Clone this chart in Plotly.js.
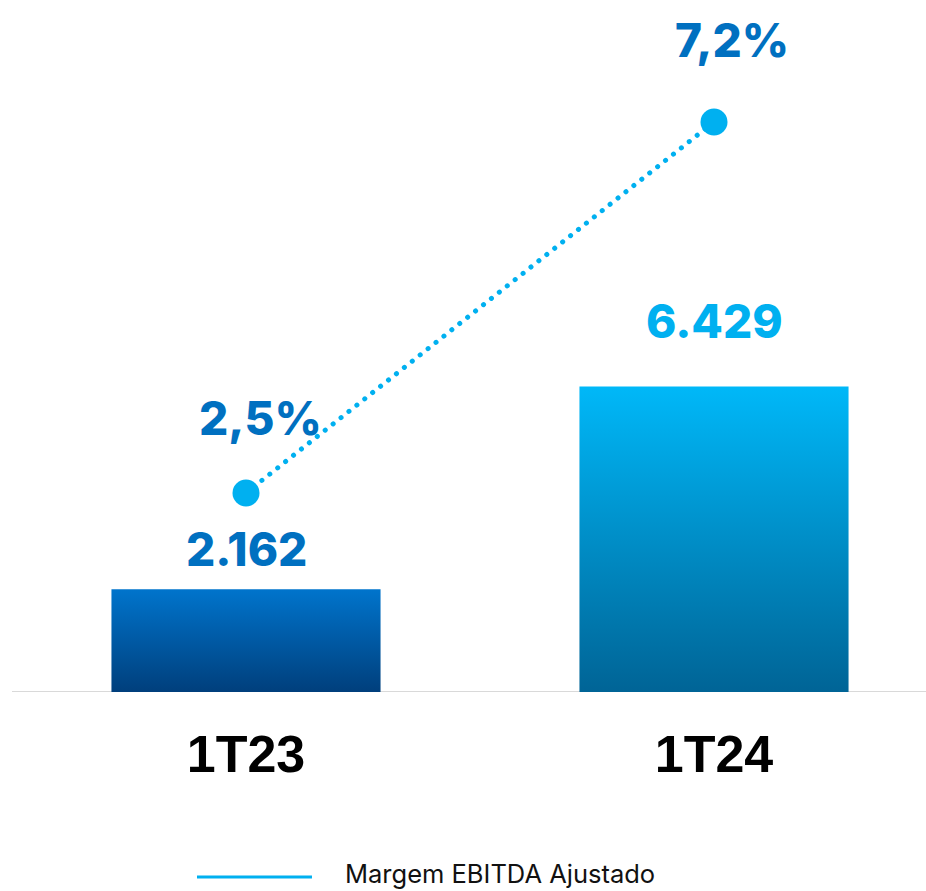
<!DOCTYPE html>
<html>
<head>
<meta charset="utf-8">
<script src="https://cdn.plot.ly/plotly-3.0.1.min.js"></script>
<style>html,body{margin:0;padding:0;background:#fff;}#chart{width:926px;height:891px;}</style>
</head>
<body>
<div id="chart"></div>
<script>
const categories = ['1T23', '1T24'];
const ebitda = [2162, 6429];
const margem = [2.5, 7.2];
const seriesLineName = 'Margem EBITDA Ajustado';

function fmtThousands(v) {
  return String(Math.round(v)).replace(/\B(?=(\d{3})+(?!\d))/g, '.');
}
function fmtPct(v) {
  return v.toFixed(1).replace('.', ',') + '%';
}

const barTrace = {
  type: 'bar',
  x: categories,
  y: ebitda,
  width: 0.575,
  marker: { color: ['#0060b0', '#0096d0'] },
  showlegend: false,
  hoverinfo: 'skip'
};

const lineTrace = {
  type: 'scatter',
  mode: 'lines+markers',
  x: categories,
  y: margem,
  yaxis: 'y2',
  name: seriesLineName,
  line: { color: '#00b0f0', width: 5, dash: '4px,6px' },
  marker: { color: '#00b0f0', size: 27 },
  showlegend: false,
  cliponaxis: false,
  hoverinfo: 'skip'
};

const valueFont = { family: 'Inter, Liberation Sans, Arial, sans-serif', size: 46, weight: 800 };
const barShifts = [40, 66];
const barColors = ['#0070c0', '#00b0f0'];
const pctShifts = [[14, 75], [18, 82]];

const annotations = [];
categories.forEach((c, i) => {
  annotations.push({
    x: c, y: ebitda[i], xref: 'x', yref: 'y',
    text: fmtThousands(ebitda[i]), showarrow: false,
    yanchor: 'middle', yshift: barShifts[i],
    font: Object.assign({}, valueFont, { color: barColors[i] })
  });
  annotations.push({
    x: c, y: margem[i], xref: 'x', yref: 'y2',
    text: fmtPct(margem[i]), showarrow: false,
    yanchor: 'middle', xshift: pctShifts[i][0], yshift: pctShifts[i][1],
    font: Object.assign({}, valueFont, { color: '#0070c0' })
  });
});
annotations.push({
  x: 0.3632, y: -0.2655, xref: 'paper', yref: 'paper',
  xanchor: 'left', yanchor: 'middle', showarrow: false,
  text: seriesLineName, borderpad: 0,
  font: { family: 'Inter, Noto Sans, sans-serif', size: 25.5, color: '#111111' }
});

const layout = {
  width: 926, height: 891,
  margin: { l: 12, r: 0, t: 10, b: 199 },
  paper_bgcolor: '#ffffff', plot_bgcolor: '#ffffff',
  xaxis: {
    type: 'category', range: [-0.5, 1.453],
    showgrid: false, zeroline: false,
    showline: false, ticks: '',
    ticklabelstandoff: 27,
    tickfont: { family: 'Liberation Sans, Arial, sans-serif', size: 52, weight: 'bold', color: '#000000' }
  },
  yaxis: {
    range: [0, 14358], visible: false, showgrid: false, zeroline: false, fixedrange: true
  },
  yaxis2: {
    range: [-0.0215, 8.618], overlaying: 'y', visible: false, showgrid: false, zeroline: false
  },
  shapes: [
    { type: 'line', xref: 'paper', yref: 'y', x0: 0, x1: 1, y0: 0, y1: 0,
      line: { color: '#d9d9d9', width: 2 }, layer: 'below' },
    { type: 'line', xref: 'paper', yref: 'paper', x0: 0.2024, x1: 0.3282, y0: -0.2713, y1: -0.2713,
      line: { color: '#00b0f0', width: 3 } }
  ],
  annotations: annotations,
  showlegend: false
};

Plotly.newPlot('chart', [barTrace, lineTrace], layout, { displayModeBar: false, staticPlot: true }).then(gd => {
  const svg = gd.querySelector('svg.main-svg');
  const ns = 'http://www.w3.org/2000/svg';
  let defs = svg.querySelector('defs');
  if (!defs) { defs = document.createElementNS(ns, 'defs'); svg.insertBefore(defs, svg.firstChild); }
  const grads = [
    ['gradBar0', '#0074cc', '#003f7c'],
    ['gradBar1', '#00b8f8', '#006496']
  ];
  grads.forEach(([id, top, bot]) => {
    const lg = document.createElementNS(ns, 'linearGradient');
    lg.setAttribute('id', id);
    lg.setAttribute('x1', '0'); lg.setAttribute('y1', '0');
    lg.setAttribute('x2', '0'); lg.setAttribute('y2', '1');
    const s1 = document.createElementNS(ns, 'stop');
    s1.setAttribute('offset', '0'); s1.setAttribute('stop-color', top);
    const s2 = document.createElementNS(ns, 'stop');
    s2.setAttribute('offset', '1'); s2.setAttribute('stop-color', bot);
    lg.appendChild(s1); lg.appendChild(s2);
    defs.appendChild(lg);
  });
  gd.querySelectorAll('.barlayer .point path').forEach((p, i) => {
    p.style.fill = 'url(#gradBar' + i + ')';
  });
  gd.querySelectorAll('.scatterlayer .js-line').forEach(p => {
    p.style.strokeLinecap = 'round';
    p.style.strokeDasharray = '0.1px,10px';
  });
});
</script>
</body>
</html>
